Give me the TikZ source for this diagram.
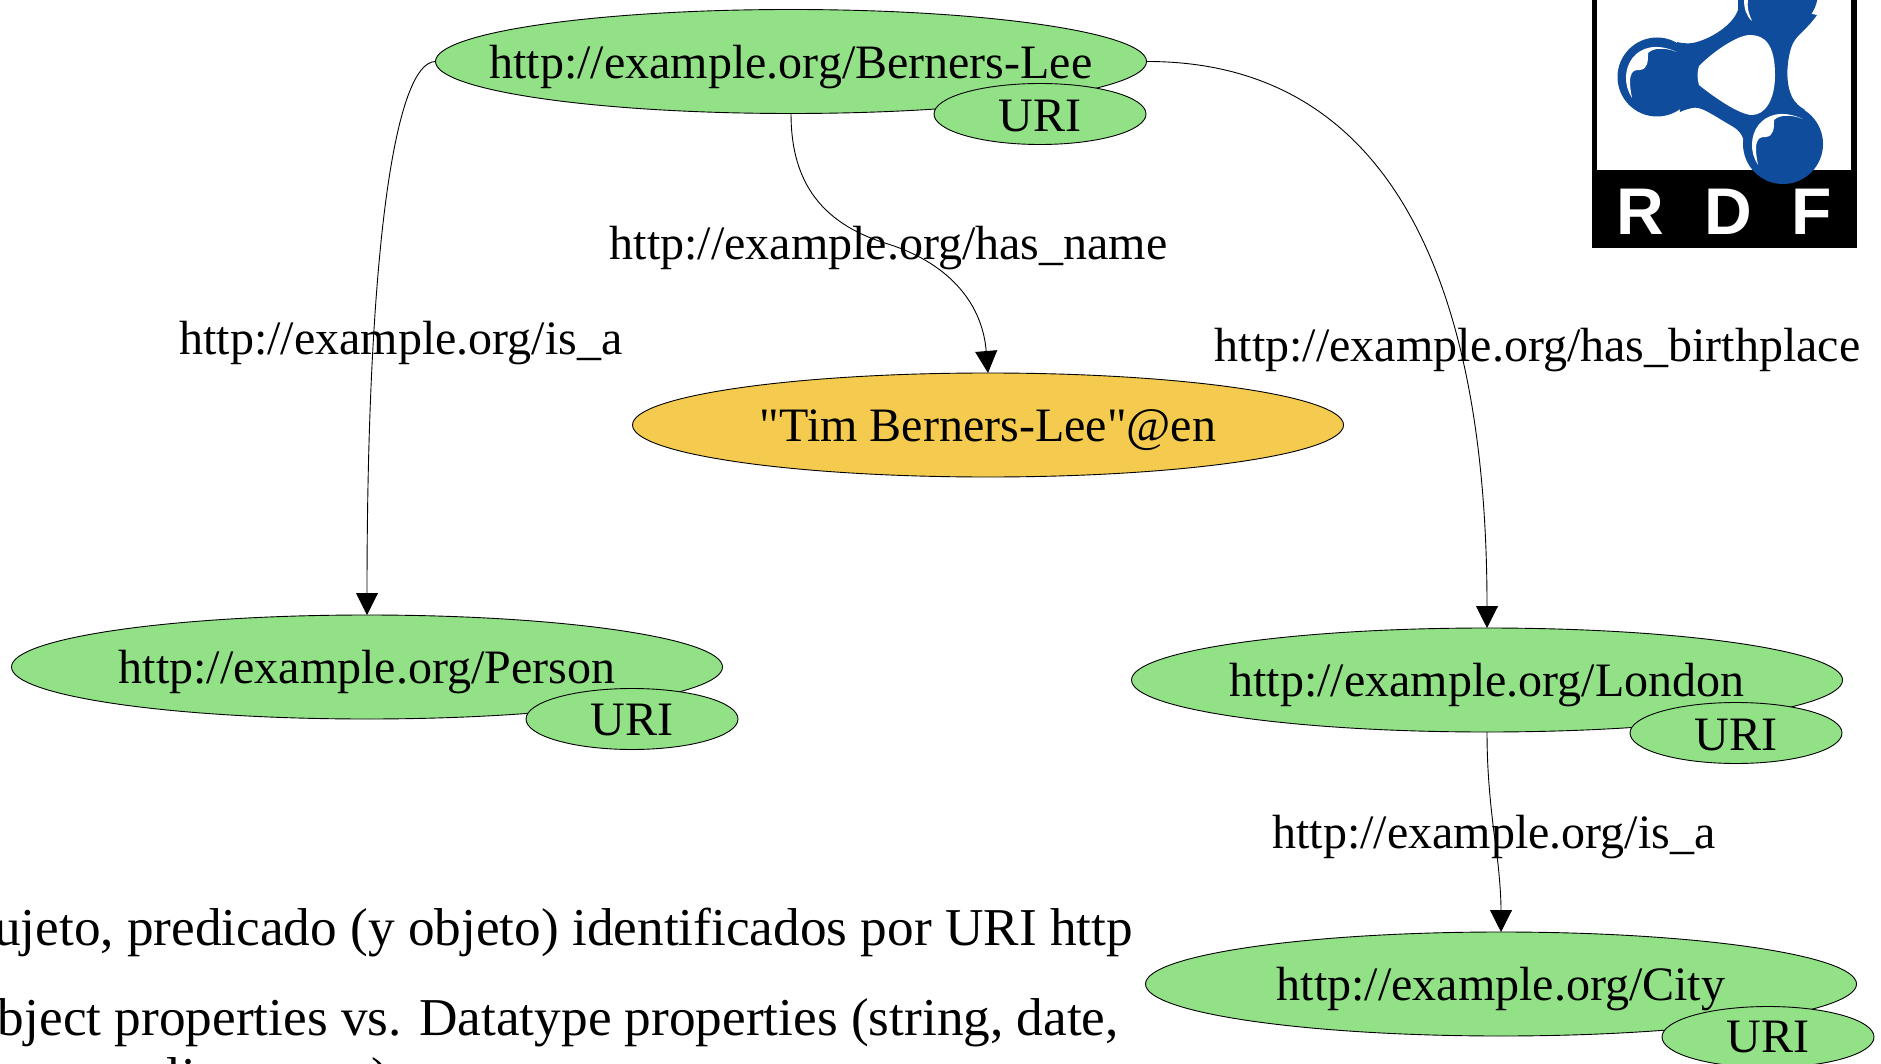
\documentclass[tikz,border=0pt]{standalone}
\usepackage{fontspec}
\setmainfont{Liberation Serif}
\newfontfamily\litfont{Liberation Serif}
\newfontfamily\logofont{Liberation Sans}[BoldFont={Liberation Sans Bold}]
\usetikzlibrary{arrows.meta,shapes.geometric}
\definecolor{uribg}{HTML}{92E186}
\definecolor{litbg}{HTML}{F5CB4F}
\definecolor{rdfblue}{HTML}{0F4C9C}
\newcommand{\ctrtext}[2][-16pt]{\makebox[0pt]{\smash{\raisebox{#1}{#2}}}}
\tikzset{
  x=1pt,y=-1pt,
  ell/.style={shape=ellipse,draw=black,line width=0.9pt,inner sep=0pt,outer sep=0pt,font=\fontsize{48}{52}\selectfont,text=black},
  res/.style={ell,fill=uribg,minimum width=711pt,minimum height=104pt},
  lit/.style={ell,fill=litbg,minimum width=711pt,minimum height=104pt},
  tag/.style={ell,fill=uribg,minimum width=212pt,minimum height=61pt},
  lab/.style={font=\fontsize{48}{52}\selectfont,inner sep=0pt,text=black},
  body/.style={font=\fontsize{53.25}{57}\selectfont,inner sep=0pt,text=black},
  edge/.style={draw=black,line width=0.9pt},
  arr/.style={edge,-{Triangle[length=22pt,width=22pt]}},
  rdf/.style={font=\logofont\fontsize{66}{66}\bfseries\selectfont,text=white,inner sep=0pt},
}
\begin{document}
\begin{tikzpicture}
\useasboundingbox (0,0) rectangle (1881,1064);
\clip (0,0) rectangle (1881,1064);
% logo
\fill[black] (1592,0) rectangle (1857,248);
\fill[white] (1597,0) rectangle (1851,170);
\fill[rdfblue] (1657,77) circle (39.5);
\fill[rdfblue] (1783,144) circle (40);
\fill[rdfblue] (1778,-8) circle (40);
\fill[rdfblue] (1677,42) .. controls (1684,44) and (1692,44) .. (1700,41)
  .. controls (1715,36) and (1733,24) .. (1738,10) -- (1738,0) -- (1817,15)
  .. controls (1805,32) and (1795,35) .. (1791,48)
  .. controls (1786,65) and (1786,85) .. (1792,97)
  .. controls (1795,103) and (1800,107) .. (1805,110) -- (1745,145)
  .. controls (1742,130) and (1735,128) .. (1725,122)
  .. controls (1710,113) and (1700,106) .. (1692,108)
  .. controls (1688,109) and (1684,110) .. (1680,112) -- cycle;
\fill[white] (1699,66) .. controls (1715,50) and (1738,35) .. (1750,35)
  .. controls (1765,35) and (1775,45) .. (1775,75)
  .. controls (1775,100) and (1765,115) .. (1752,115)
  .. controls (1740,115) and (1715,98) .. (1699,85)
  .. controls (1697,78) and (1697,72) .. (1699,66) -- cycle;
\foreach \cx/\cy in {1657/77,1783/144}{
  \fill[white] (\cx-25,\cy+21) .. controls (\cx-42,\cy-5) and (\cx-22,\cy-44) .. (\cx+20,\cy-25)
    .. controls (\cx+10,\cy-29) and (\cx-3,\cy-30) .. (\cx-9,\cy-24)
    .. controls (\cx-9,\cy-16) and (\cx-9,\cy-8) .. (\cx-17,\cy-7)
    .. controls (\cx-22,\cy-7) and (\cx-31,\cy-8) .. (\cx-25,\cy+21) -- cycle;
}
\fill[white] (1744,0) .. controls (1744,8) and (1746,16) .. (1752,21) .. controls (1748,12) and (1747,6) .. (1748,0) -- cycle;
\node[rdf] (rr) at (1640,212) {R};
\node[rdf] (rd) at (1728,212) {D};
\node[rdf] (rf) at (1812,212) {F};
% nodes
\node[res] (bl) at (791,61.5) {\ctrtext[-17.5pt]{http://example.org/Berners-Lee}};
\node[tag] (blu) at (1040,114) {\ctrtext[-17.5pt]{URI}};
\node[lit] (tim) at (988,425) {\ctrtext{\litfont "Tim Berners-Lee"@en}};
\node[res] (per) at (367,667) {\ctrtext{http://example.org/Person}};
\node[tag] (peru) at (632,719) {\ctrtext{URI}};
\node[res] (lon) at (1487,680) {\ctrtext{http://example.org/London}};
\node[tag] (lonu) at (1736,733) {\ctrtext[-17pt]{URI}};
\node[res] (cit) at (1501,984) {\ctrtext{http://example.org/City}};
\node[tag] (citu) at (1768,1037) {\ctrtext[-15pt]{URI}};
% edges
\coordinate (m1) at (888,244);
\coordinate (m2) at (1494,833);
\draw[arr] (bl.west) .. controls (395,62) and (367,250) .. (per.north);
\draw[edge] (bl.south) .. controls (791,175) and (815,222) .. (m1);
\draw[arr] (m1) .. controls (945,262) and (982,300) .. (tim.north);
\draw[arr] (bl.east) .. controls (1400,61) and (1487,300) .. (lon.north);
\draw[edge] (lon.south) .. controls (1487,770) and (1490,800) .. (m2);
\draw[arr] (m2) .. controls (1498,860) and (1501,890) .. (cit.north);
% labels
\node[lab] (l1) at (888.5,244) {\ctrtext{http://example.org/has\_name}};
\node[lab] (l2) at (401,339) {\ctrtext{http://example.org/is\_a}};
\node[lab] (l3) at (1537.5,346) {\ctrtext{http://example.org/has\_birthplace}};
\node[lab] (l4) at (1494,832) {\ctrtext{http://example.org/is\_a}};
% body text
\node[body,anchor=base east] (t1) at (1133,945.5) {ujeto, predicado (y objeto) identificados por URI http};
\node[body,anchor=base east] (t2) at (1119,1035) {bject properties vs. Datatype properties (string, date,};
\node[body,anchor=base west] (t3) at (166,1094) {li\hspace{176pt})};
\end{tikzpicture}
\end{document}
